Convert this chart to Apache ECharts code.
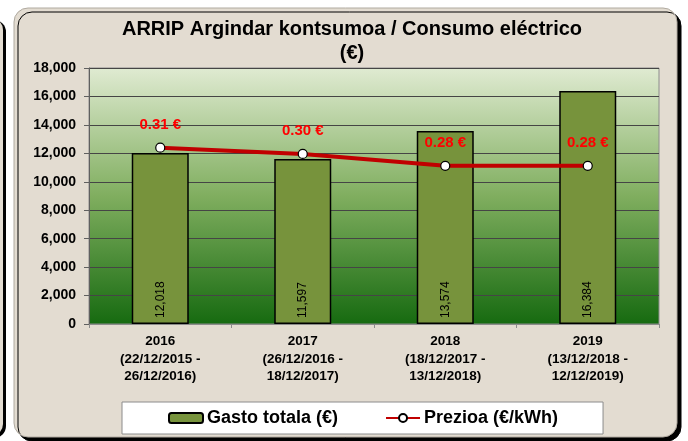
<!DOCTYPE html>
<html>
<head>
<meta charset="utf-8">
<script src="https://cdn.jsdelivr.net/npm/echarts@6/dist/echarts.min.js"></script>
<style>
html,body{margin:0;padding:0;background:#ffffff;}
#chart{width:688px;height:441px;}
</style>
</head>
<body>
<div id="chart"></div>
<script>
const titleText = 'ARRIP Argindar kontsumoa / Consumo eléctrico\n(€)';
const categories = [
  '2016\n(22/12/2015 -\n26/12/2016)',
  '2017\n(26/12/2016 -\n18/12/2017)',
  '2018\n(18/12/2017 -\n13/12/2018)',
  '2019\n(13/12/2018 -\n12/12/2019)'
];
const gastoValues = [12018, 11597, 13574, 16384];
const prezioValues = [0.310, 0.299, 0.278, 0.278];
const gastoName = 'Gasto totala (€)';
const prezioName = 'Prezioa (€/kWh)';
const yMin = 0, yMax = 18000, yInterval = 2000;

const FONT = '"Liberation Sans", Arial, sans-serif';
const chart = echarts.init(document.getElementById('chart'), null, {renderer: 'canvas'});

chart.setOption({
  backgroundColor: '#ffffff',
  animation: false,
  graphic: [
    {type: 'rect', z: -10, shape: {x: -30, y: 18, width: 33, height: 418, r: 12},
     style: {fill: '#e2dbd0', shadowColor: '#000', shadowOffsetX: 3, shadowOffsetY: 2, shadowBlur: 0}},
    {type: 'rect', z: -10, shape: {x: 14, y: 8, width: 663, height: 429, r: 14},
     style: {fill: '#e3dcd1', stroke: '#b0aaa0', lineWidth: 1, shadowColor: '#000', shadowOffsetX: 4, shadowOffsetY: 4, shadowBlur: 0}}
  ],
  title: {
    text: titleText,
    left: 347, textAlign: 'center', top: 12,
    textStyle: {fontFamily: FONT, fontSize: 20, fontWeight: 'bold', color: '#000', lineHeight: 24}
  },
  grid: {
    left: 89, right: 29, top: 68, bottom: 117,
    show: true, borderColor: '#8c8c8c', borderWidth: 1,
    backgroundColor: new echarts.graphic.LinearGradient(0, 0, 0, 1, [
      {offset: 0, color: '#e0ebd2'},
      {offset: 0.5, color: '#80ae5f'},
      {offset: 1, color: '#166a10'}
    ])
  },
  legend: {
    left: 122, top: 402,
    padding: [7, 45, 7, 46],
    backgroundColor: '#ffffff', borderColor: '#8c8c8c', borderWidth: 1,
    itemWidth: 34, itemHeight: 10, itemGap: 47,
    textStyle: {fontFamily: FONT, fontSize: 18, fontWeight: 'bold', color: '#000', padding: [0, 0, 0, -1]},
    data: [gastoName, prezioName]
  },
  xAxis: {
    type: 'category', data: categories,
    axisLine: {lineStyle: {color: '#8c8c8c', width: 1}},
    axisTick: {show: true, length: 4, lineStyle: {color: '#8c8c8c'}},
    axisLabel: {fontFamily: FONT, fontSize: 13.5, fontWeight: 'bold', color: '#000', lineHeight: 17.5, margin: 9, interval: 0}
  },
  yAxis: [
    {
      type: 'value', min: yMin, max: yMax, interval: yInterval,
      axisLine: {show: true, lineStyle: {color: '#606060', width: 1}},
      axisTick: {show: true, length: 5, lineStyle: {color: '#606060'}},
      splitLine: {lineStyle: {color: '#454545', width: 1}},
      axisLabel: {fontFamily: FONT, fontSize: 14, fontWeight: 'bold', color: '#000', margin: 13,
        formatter: v => v.toLocaleString('en-US')}
    },
    {type: 'value', min: 0, max: 0.45, show: false, splitLine: {show: false}}
  ],
  series: [
    {
      name: gastoName, type: 'bar', data: gastoValues, barWidth: '40%',
      itemStyle: {color: '#77933c', borderColor: '#000', borderWidth: 1.5},
      label: {show: true, position: 'insideBottom', rotate: 90, align: 'left', verticalAlign: 'middle', distance: 6,
        fontFamily: FONT, fontSize: 12, color: '#000',
        formatter: p => p.value.toLocaleString('en-US')}
    },
    {
      name: prezioName, type: 'line', yAxisIndex: 1, data: prezioValues, z: 5,
      symbol: 'circle', symbolSize: 9,
      lineStyle: {color: '#c00000', width: 4},
      itemStyle: {color: '#ffffff', borderColor: '#000', borderWidth: 1.2},
      label: {show: true, position: 'top', distance: 10, fontFamily: FONT, fontSize: 15, fontWeight: 'bold', color: '#ff0000',
        formatter: p => p.value.toFixed(2) + ' €'}
    }
  ]
});
</script>
</body>
</html>
